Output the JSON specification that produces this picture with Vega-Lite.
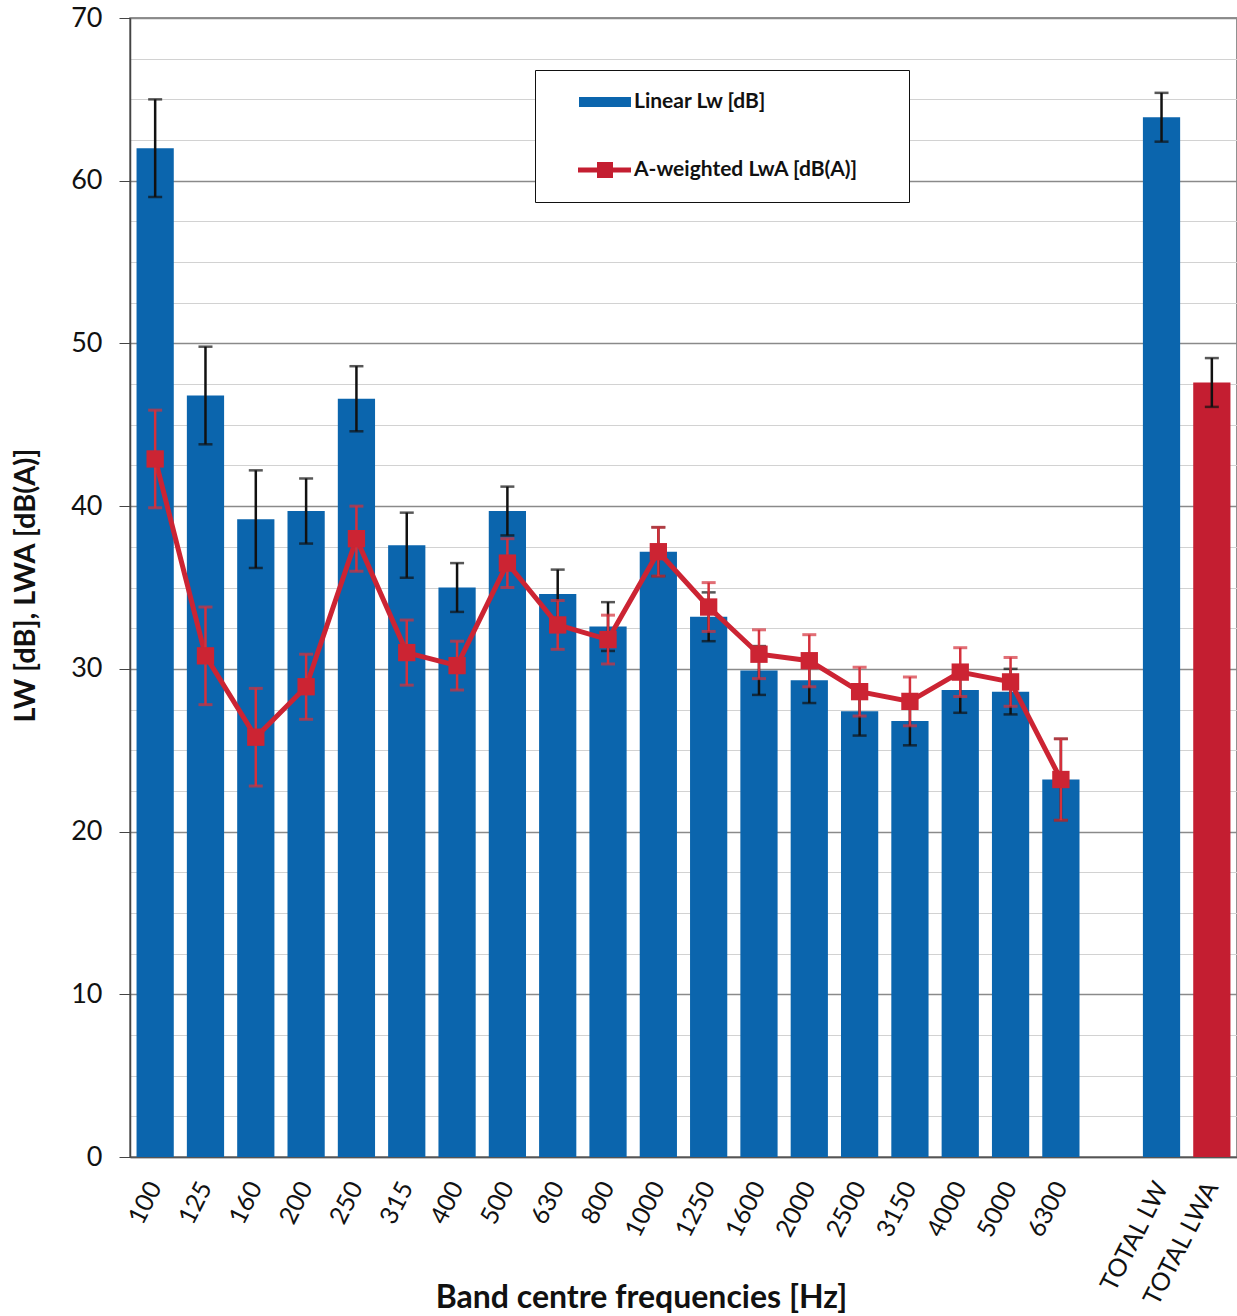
{
  "$schema": "https://vega.github.io/schema/vega-lite/v6.json",
  "width": 1107,
  "height": 1139,
  "autosize": {"type": "none"},
  "padding": {"left": 130, "top": 18, "right": 0, "bottom": 159},
  "background": "white",
  "config": {
    "view": {"stroke": "#6e6e6e", "strokeWidth": 1.5},
    "font": "Lato"
  },
  "data": {
    "values": [
      {"f": "100", "series": "Linear Lw [dB]", "kind": "bar", "value": 62.0, "lo": 59.0, "hi": 65.0},
      {"f": "125", "series": "Linear Lw [dB]", "kind": "bar", "value": 46.8, "lo": 43.8, "hi": 49.8},
      {"f": "160", "series": "Linear Lw [dB]", "kind": "bar", "value": 39.2, "lo": 36.2, "hi": 42.2},
      {"f": "200", "series": "Linear Lw [dB]", "kind": "bar", "value": 39.7, "lo": 37.7, "hi": 41.7},
      {"f": "250", "series": "Linear Lw [dB]", "kind": "bar", "value": 46.6, "lo": 44.6, "hi": 48.6},
      {"f": "315", "series": "Linear Lw [dB]", "kind": "bar", "value": 37.6, "lo": 35.6, "hi": 39.6},
      {"f": "400", "series": "Linear Lw [dB]", "kind": "bar", "value": 35.0, "lo": 33.5, "hi": 36.5},
      {"f": "500", "series": "Linear Lw [dB]", "kind": "bar", "value": 39.7, "lo": 38.2, "hi": 41.2},
      {"f": "630", "series": "Linear Lw [dB]", "kind": "bar", "value": 34.6, "lo": 33.1, "hi": 36.1},
      {"f": "800", "series": "Linear Lw [dB]", "kind": "bar", "value": 32.6, "lo": 31.1, "hi": 34.1},
      {"f": "1000", "series": "Linear Lw [dB]", "kind": "bar", "value": 37.2, "lo": 35.7, "hi": 38.7},
      {"f": "1250", "series": "Linear Lw [dB]", "kind": "bar", "value": 33.2, "lo": 31.7, "hi": 34.7},
      {"f": "1600", "series": "Linear Lw [dB]", "kind": "bar", "value": 29.9, "lo": 28.4, "hi": 31.4},
      {"f": "2000", "series": "Linear Lw [dB]", "kind": "bar", "value": 29.3, "lo": 27.9, "hi": 30.7},
      {"f": "2500", "series": "Linear Lw [dB]", "kind": "bar", "value": 27.4, "lo": 25.9, "hi": 28.9},
      {"f": "3150", "series": "Linear Lw [dB]", "kind": "bar", "value": 26.8, "lo": 25.3, "hi": 28.3},
      {"f": "4000", "series": "Linear Lw [dB]", "kind": "bar", "value": 28.7, "lo": 27.3, "hi": 30.1},
      {"f": "5000", "series": "Linear Lw [dB]", "kind": "bar", "value": 28.6, "lo": 27.2, "hi": 30.0},
      {"f": "6300", "series": "Linear Lw [dB]", "kind": "bar", "value": 23.2, "lo": 20.7, "hi": 25.7},
      {"f": "TOTAL LW", "series": "Linear Lw [dB]", "kind": "bar", "value": 63.9, "lo": 62.4, "hi": 65.4},
      {"f": "TOTAL LWA", "series": "A-weighted LwA [dB(A)]", "kind": "bar", "value": 47.6, "lo": 46.1, "hi": 49.1},
      {"f": "100", "series": "A-weighted LwA [dB(A)]", "kind": "line", "value": 42.9, "lo": 39.9, "hi": 45.9},
      {"f": "125", "series": "A-weighted LwA [dB(A)]", "kind": "line", "value": 30.8, "lo": 27.8, "hi": 33.8},
      {"f": "160", "series": "A-weighted LwA [dB(A)]", "kind": "line", "value": 25.8, "lo": 22.8, "hi": 28.8},
      {"f": "200", "series": "A-weighted LwA [dB(A)]", "kind": "line", "value": 28.9, "lo": 26.9, "hi": 30.9},
      {"f": "250", "series": "A-weighted LwA [dB(A)]", "kind": "line", "value": 38.0, "lo": 36.0, "hi": 40.0},
      {"f": "315", "series": "A-weighted LwA [dB(A)]", "kind": "line", "value": 31.0, "lo": 29.0, "hi": 33.0},
      {"f": "400", "series": "A-weighted LwA [dB(A)]", "kind": "line", "value": 30.2, "lo": 28.7, "hi": 31.7},
      {"f": "500", "series": "A-weighted LwA [dB(A)]", "kind": "line", "value": 36.5, "lo": 35.0, "hi": 38.0},
      {"f": "630", "series": "A-weighted LwA [dB(A)]", "kind": "line", "value": 32.7, "lo": 31.2, "hi": 34.2},
      {"f": "800", "series": "A-weighted LwA [dB(A)]", "kind": "line", "value": 31.8, "lo": 30.3, "hi": 33.3},
      {"f": "1000", "series": "A-weighted LwA [dB(A)]", "kind": "line", "value": 37.2, "lo": 35.7, "hi": 38.7},
      {"f": "1250", "series": "A-weighted LwA [dB(A)]", "kind": "line", "value": 33.8, "lo": 32.3, "hi": 35.3},
      {"f": "1600", "series": "A-weighted LwA [dB(A)]", "kind": "line", "value": 30.9, "lo": 29.4, "hi": 32.4},
      {"f": "2000", "series": "A-weighted LwA [dB(A)]", "kind": "line", "value": 30.5, "lo": 28.9, "hi": 32.1},
      {"f": "2500", "series": "A-weighted LwA [dB(A)]", "kind": "line", "value": 28.6, "lo": 27.1, "hi": 30.1},
      {"f": "3150", "series": "A-weighted LwA [dB(A)]", "kind": "line", "value": 28.0, "lo": 26.5, "hi": 29.5},
      {"f": "4000", "series": "A-weighted LwA [dB(A)]", "kind": "line", "value": 29.8, "lo": 28.3, "hi": 31.3},
      {"f": "5000", "series": "A-weighted LwA [dB(A)]", "kind": "line", "value": 29.2, "lo": 27.7, "hi": 30.7},
      {"f": "6300", "series": "A-weighted LwA [dB(A)]", "kind": "line", "value": 23.2, "lo": 20.7, "hi": 25.7}
    ]
  },
  "encoding": {
    "x": {
      "field": "f",
      "type": "nominal",
      "sort": ["100", "125", "160", "200", "250", "315", "400", "500", "630", "800", "1000", "1250", "1600", "2000", "2500", "3150", "4000", "5000", "6300", "gap", "TOTAL LW", "TOTAL LWA"],
      "scale": {
        "domain": ["100", "125", "160", "200", "250", "315", "400", "500", "630", "800", "1000", "1250", "1600", "2000", "2500", "3150", "4000", "5000", "6300", "gap", "TOTAL LW", "TOTAL LWA"],
        "paddingInner": 0.26,
        "paddingOuter": 0.13
      },
      "axis": {
        "title": "Band centre frequencies [Hz]",
        "titleFont": "Lato",
        "titleFontSize": 32,
        "titleFontWeight": "bold",
        "titleColor": "#111",
        "titleX": 511,
        "titleY": 140,
        "titleBaseline": "middle",
        "labelExpr": "datum.value === 'gap' ? '' : datum.label",
        "labelAngle": -63,
        "labelFont": "Lato",
        "labelFontSize": 25,
        "labelColor": "#111",
        "labelPadding": 26,
        "labelLimit": 300,
        "labelOverlap": false,
        "ticks": false,
        "domainColor": "#555",
        "domainWidth": 1.5,
        "grid": false
      }
    }
  },
  "layer": [
    {
      "transform": [{"filter": "datum.kind === 'bar'"}],
      "mark": {"type": "bar"},
      "encoding": {
        "y": {
          "field": "value",
          "type": "quantitative",
          "scale": {"domain": [0, 70], "nice": false, "zero": true},
          "axis": {
            "title": "LW [dB], LWA [dB(A)]",
            "titleFont": "Lato",
            "titleFontSize": 29,
            "titleFontWeight": "bold",
            "titleColor": "#111",
            "titleAngle": -90,
            "titleBaseline": "middle",
            "titleX": -105,
            "titleY": 567,
            "values": [0, 2.5, 5, 7.5, 10, 12.5, 15, 17.5, 20, 22.5, 25, 27.5, 30, 32.5, 35, 37.5, 40, 42.5, 45, 47.5, 50, 52.5, 55, 57.5, 60, 62.5, 65, 67.5, 70],
            "labelExpr": "datum.value % 10 === 0 ? format(datum.value, 'd') : ''",
            "labelFont": "Lato",
            "labelFontSize": 27,
            "labelColor": "#111",
            "labelPadding": 17,
            "tickSize": 11,
            "tickColor": {"condition": {"test": "datum.value % 10 === 0", "value": "#444"}, "value": "transparent"},
            "grid": true,
            "gridColor": {"condition": {"test": "datum.value % 10 === 0", "value": "#8a8a8a"}, "value": "#d2d2d2"},
            "gridWidth": {"condition": {"test": "datum.value % 10 === 0", "value": 1.6}, "value": 1.2},
            "domainColor": "#444",
            "domainWidth": 1.5
          }
        },
        "color": {
          "field": "series",
          "type": "nominal",
          "scale": {"domain": ["Linear Lw [dB]", "A-weighted LwA [dB(A)]"], "range": ["#0b65ad", "#c41e31"]},
          "legend": {
            "orient": "none",
            "legendX": 405,
            "legendY": 52,
            "title": "\u00a0",
            "titleOrient": "left",
            "titlePadding": 38,
            "titleFontSize": 10,
            "strokeColor": "#111",
            "fillColor": "white",
            "padding": 21,
            "rowPadding": 47,
            "labelFont": "Lato",
            "labelFontWeight": "bold",
            "labelFontSize": 21,
            "labelColor": "#111",
            "labelOffset": 18,
            "labelLimit": 400,
            "symbolSize": 400,
            "labelExpr": "datum.label + '\u2800\u2800'",
            "encode": {
              "symbols": {
                "update": {
                  "shape": {"signal": "datum.value === 'Linear Lw [dB]' ? 'M-2.6,-0.5H2.6V0.5H-2.6Z' : 'M-2.7,-0.25H2.6V0.25H-2.7Z M-0.8,-0.8H0.8V0.8H-0.8Z'"},
                  "fill": {"signal": "datum.value === 'Linear Lw [dB]' ? '#0b65ad' : '#cc2433'"},
                  "stroke": {"value": "transparent"},
                  "size": {"value": 400},
                  "opacity": {"value": 1},
                  "fillOpacity": {"value": 1}
                }
              }
            }
          }
        }
      }
    },
    {
      "transform": [{"filter": "datum.kind === 'bar'"}],
      "mark": {"type": "rule", "color": "#111", "strokeWidth": 2.5},
      "encoding": {
        "y": {"field": "lo", "type": "quantitative"},
        "y2": {"field": "hi"}
      }
    },
    {
      "transform": [{"filter": "datum.kind === 'bar'"}],
      "mark": {"type": "tick", "color": "#111", "size": 14, "thickness": 2.5},
      "encoding": {
        "y": {"field": "lo", "type": "quantitative"}
      }
    },
    {
      "transform": [{"filter": "datum.kind === 'bar'"}],
      "mark": {"type": "tick", "color": "#111", "size": 14, "thickness": 2.5},
      "encoding": {
        "y": {"field": "hi", "type": "quantitative"}
      }
    },
    {
      "transform": [{"filter": "datum.kind === 'line'"}],
      "mark": {"type": "line", "color": "#cc2433", "strokeWidth": 5},
      "encoding": {
        "y": {"field": "value", "type": "quantitative"}
      }
    },
    {
      "transform": [{"filter": "datum.kind === 'line'"}],
      "mark": {"type": "rule", "color": "#d4303b", "strokeWidth": 2.5},
      "encoding": {
        "y": {"field": "lo", "type": "quantitative"},
        "y2": {"field": "hi"}
      }
    },
    {
      "transform": [{"filter": "datum.kind === 'line'"}],
      "mark": {"type": "tick", "color": "#d4303b", "size": 14, "thickness": 3},
      "encoding": {
        "y": {"field": "lo", "type": "quantitative"}
      }
    },
    {
      "transform": [{"filter": "datum.kind === 'line'"}],
      "mark": {"type": "tick", "color": "#d4303b", "size": 14, "thickness": 3},
      "encoding": {
        "y": {"field": "hi", "type": "quantitative"}
      }
    },
    {
      "transform": [{"filter": "datum.kind === 'line'"}],
      "mark": {"type": "point", "shape": "square", "filled": true, "size": 300, "color": "#cc2433", "opacity": 1},
      "encoding": {
        "y": {"field": "value", "type": "quantitative"}
      }
    }
  ]
}
